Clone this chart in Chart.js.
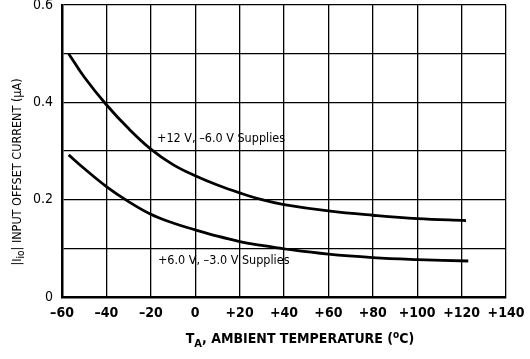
<!DOCTYPE html>
<html>
<head>
<meta charset="utf-8">
<script src="https://cdn.jsdelivr.net/npm/chart.js@4"></script>
<style>
  html, body { margin: 0; padding: 0; background: #fff; }
  #wrap { width: 530px; height: 359px; }
</style>
</head>
<body>
<div id="wrap"><canvas id="chart" width="530" height="359"></canvas></div>
<script>
// values
const tempUpper = [-57, -50, -40, -30, -20, -10, 0, 10, 20, 30, 40, 60, 80, 100, 122];
const currentUpper = [0.500, 0.452, 0.395, 0.346, 0.304, 0.272, 0.249, 0.230, 0.214, 0.200, 0.190, 0.177, 0.168, 0.161, 0.157];

const tempLower = [-57, -50, -40, -30, -20, -10, 0, 10, 20, 30, 40, 60, 80, 100, 123];
const currentLower = [0.292, 0.264, 0.227, 0.196, 0.170, 0.152, 0.138, 0.125, 0.114, 0.106, 0.099, 0.088, 0.081, 0.077, 0.074];

const xTickLabels = ['–60', '–40', '–20', '0', '+20', '+40', '+60', '+80', '+100', '+120', '+140'];
const yTickLabels = ['0', '', '0.2', '', '0.4', '', '0.6'];
const curveLabels = ['+12 V, –6.0 V Supplies', '+6.0 V, –3.0 V Supplies'];

const FONT = "'Liberation Sans Narrow', 'DejaVu Sans Condensed', Arial, sans-serif";

function toPoints(xs, ys) {
  return xs.map((x, i) => ({ x: x, y: ys[i] }));
}

// draws axis titles (with sub/superscripts) and the curve labels
const textPlugin = {
  id: 'textPlugin',
  afterDraw(chart) {
    const ctx = chart.ctx;
    const xs = chart.scales.x, ys = chart.scales.y;
    ctx.save();
    ctx.fillStyle = '#000';

    // curve labels, placed in data units
    ctx.font = '12.5px ' + FONT;
    ctx.textAlign = 'left';
    ctx.textBaseline = 'middle';
    ctx.fillText(curveLabels[0], xs.getPixelForValue(-17.2), ys.getPixelForValue(0.326));
    ctx.fillText(curveLabels[1], xs.getPixelForValue(-16.8), ys.getPixelForValue(0.074));

    // x axis title
    ctx.textBaseline = 'alphabetic';
    const parts = [
      { t: 'T', f: 'bold 14px ', dy: 0 },
      { t: 'A', f: 'bold 11px ', dy: 4 },
      { t: ', AMBIENT TEMPERATURE (', f: 'bold 14px ', dy: 0 },
      { t: 'o', f: 'bold 10px ', dy: -5 },
      { t: 'C)', f: 'bold 14px ', dy: 0 }
    ];
    let total = 0;
    parts.forEach(p => { ctx.font = p.f + FONT; p.w = ctx.measureText(p.t).width; total += p.w; });
    let px = 300 - total / 2;
    parts.forEach(p => {
      ctx.font = p.f + FONT;
      ctx.fillText(p.t, px, 343 + p.dy);
      px += p.w;
    });

    // y axis title, rotated
    ctx.translate(21, 172);
    ctx.rotate(-Math.PI / 2);
    const yparts = [
      { t: '|I', f: '12.5px ', dy: 0 },
      { t: 'io', f: '10px ', dy: 3 },
      { t: '| INPUT OFFSET CURRENT (µA)', f: '12.5px ', dy: 0 }
    ];
    total = 0;
    yparts.forEach(p => { ctx.font = p.f + FONT; p.w = ctx.measureText(p.t).width; total += p.w; });
    px = -total / 2;
    yparts.forEach(p => {
      ctx.font = p.f + FONT;
      ctx.fillText(p.t, px, p.dy);
      px += p.w;
    });
    ctx.restore();
  }
};

const lineStyle = {
  borderColor: '#000',
  borderWidth: 2.8,
  pointRadius: 0,
  fill: false,
  tension: 0.4
};

new Chart(document.getElementById('chart'), {
  type: 'line',
  data: {
    datasets: [
      Object.assign({ label: curveLabels[0], data: toPoints(tempUpper, currentUpper) }, lineStyle),
      Object.assign({ label: curveLabels[1], data: toPoints(tempLower, currentLower) }, lineStyle)
    ]
  },
  options: {
    responsive: false,
    animation: false,
    layout: { padding: { top: 5, right: 24, left: 0, bottom: 0 } },
    plugins: { legend: { display: false }, tooltip: { enabled: false } },
    scales: {
      x: {
        type: 'linear',
        min: -60,
        max: 140,
        afterFit: s => { s.height = 62; s.paddingLeft = 0; s.paddingRight = 0; },
        grid: { color: '#000', lineWidth: 1.3, drawTicks: false },
        border: { color: '#000', width: 2.5 },
        ticks: {
          stepSize: 20,
          padding: 8,
          color: '#000',
          font: { family: FONT, size: 14, weight: 'bold' },
          maxRotation: 0,
          callback: (v) => xTickLabels[Math.round((v + 60) / 20)]
        }
      },
      y: {
        min: 0,
        max: 0.6,
        afterFit: s => { s.width = 62; s.paddingTop = 0; s.paddingBottom = 0; },
        grid: { color: '#000', lineWidth: 1.3, drawTicks: false },
        border: { color: '#000', width: 2.5 },
        ticks: {
          stepSize: 0.1,
          padding: 9,
          color: '#000',
          font: { family: FONT, size: 14 },
          callback: (v) => yTickLabels[Math.round(v * 10)]
        }
      }
    }
  },
  plugins: [textPlugin]
});
</script>
</body>
</html>
